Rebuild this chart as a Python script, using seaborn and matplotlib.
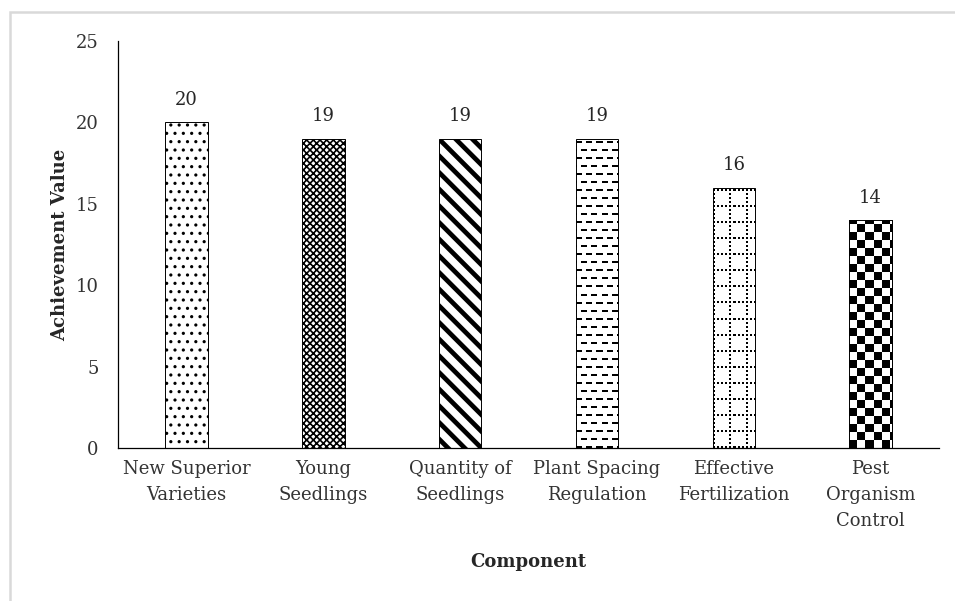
import numpy as np
import pandas as pd
import matplotlib
matplotlib.use('Agg')
import matplotlib.pyplot as plt
from matplotlib.patches import Rectangle
import seaborn as sns

components = ['New Superior\nVarieties', 'Young\nSeedlings', 'Quantity of\nSeedlings',
              'Plant Spacing\nRegulation', 'Effective\nFertilization', 'Pest\nOrganism\nControl']
values = [20, 19, 19, 19, 16, 14]
y_ticks = [0, 5, 10, 15, 20, 25]

sns.set_theme(style='white')
plt.rcParams['font.family'] = ['DejaVu Serif']
plt.rcParams['hatch.color'] = 'black'

df = pd.DataFrame({'component': components, 'value': values})

fig = plt.figure(figsize=(9.55, 6.01), dpi=100)
ax = fig.add_axes([0.1236, 0.2546, 0.8597, 0.6772])

sns.barplot(data=df, x='component', y='value', color='white', width=0.31,
            edgecolor='black', linewidth=0.7, ax=ax)

ax.set_ylim(0, 25)
ax.set_xlim(-0.5, len(components) - 0.5)
ax.set_yticks(y_ticks)

# simple hatches for first three bars
hatches = ['..', 'xxxxx', '\\\\']
hwidths = [1.1, 1.2, 3.4]
bars = list(ax.patches)
for p, h, lw in zip(bars[:3], hatches, hwidths):
    p.set_hatch(h)
    if hasattr(p, 'set_hatch_linewidth'):
        p.set_hatch_linewidth(lw)
    if hasattr(p, 'set_hatchcolor'):
        p.set_hatchcolor('black')


def tile_dashes():
    t = np.zeros((16, 10))
    t[0:2, 0:6] = 1
    t[8:10, 5:10] = 1
    t[8:10, 0:1] = 1
    return t


def tile_grid():
    t = np.zeros((16, 16))
    for k in range(0, 16, 4):
        t[0:2, k:k + 2] = 1
        t[k:k + 2, 0:2] = 1
    return t


def tile_checker():
    t = np.zeros((16, 16))
    t[0:8, 0:8] = 1
    t[8:16, 8:16] = 1
    return t


fig.canvas.draw()
for p, tile in zip(bars[3:], [tile_dashes(), tile_grid(), tile_checker()]):
    x0, y0, w, h = p.get_x(), p.get_y(), p.get_width(), p.get_height()
    (px0, py0) = ax.transData.transform((x0, y0))
    (px1, py1) = ax.transData.transform((x0 + w, y0 + h))
    nx = int(round(px1 - px0))
    ny = int(round(py1 - py0))
    reps = (ny // tile.shape[0] + 2, nx // tile.shape[1] + 2)
    img = np.tile(tile, reps)[:ny, :nx]
    im = ax.imshow(img, extent=(x0, x0 + w, y0 + h, y0), cmap='gray_r', vmin=0, vmax=1,
                   interpolation='nearest', aspect='auto', zorder=p.get_zorder() + 0.1,
                   origin='upper')
    im.set_clip_path(p)
    edge = Rectangle((x0, y0), w, h, fill=False, edgecolor='black', linewidth=0.7,
                     zorder=p.get_zorder() + 0.2)
    ax.add_patch(edge)

ax.set_ylim(0, 25)
ax.set_xlim(-0.5, len(components) - 0.5)

for i, v in enumerate(values):
    ax.annotate(str(v), (i, v), xytext=(0, 16), textcoords='offset points',
                ha='center', va='center', fontsize=13, color='#262626')

sns.despine(ax=ax)
ax.spines['left'].set_color('black')
ax.spines['bottom'].set_color('black')
ax.spines['left'].set_linewidth(0.9)
ax.spines['bottom'].set_linewidth(0.9)
ax.tick_params(axis='both', length=0, labelsize=13, colors='#333333')
ax.tick_params(axis='y', pad=14)
ax.tick_params(axis='x', pad=9)
for lab in ax.get_xticklabels():
    lab.set_linespacing(1.55)

ax.set_xlabel('Component', fontsize=13, fontweight='bold', color='#262626', labelpad=17)
ax.set_ylabel('Achievement Value', fontsize=13, fontweight='bold', color='#262626', labelpad=5)

fig.patches.append(Rectangle((0.0105, -0.01), 1.0, 0.99, transform=fig.transFigure,
                             fill=False, edgecolor='#d9d9d9', linewidth=1.8))

fig.savefig('out.png', dpi=100)
